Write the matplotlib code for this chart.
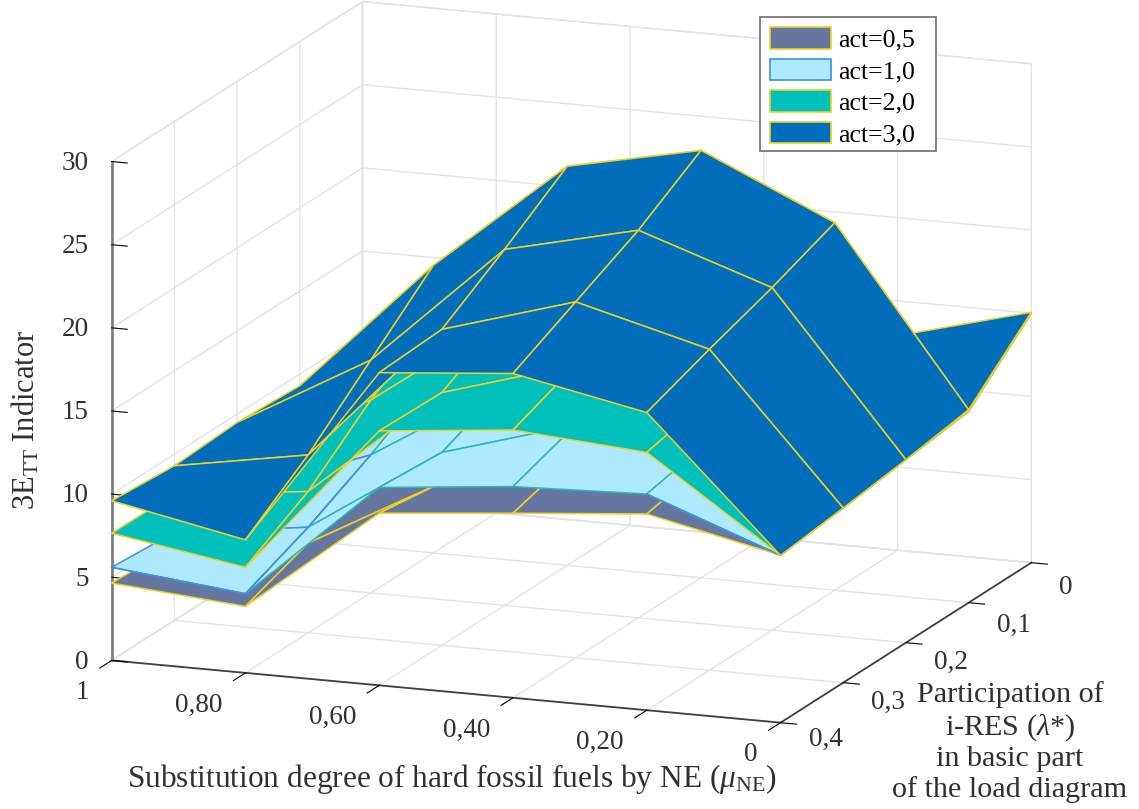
import matplotlib
matplotlib.use("Agg")
import numpy as np
import matplotlib.pyplot as plt
from matplotlib.patches import Patch, Rectangle
from mpl_toolkits.mplot3d import proj3d

plt.rcParams['font.family'] = ['Liberation Serif', 'DejaVu Serif']
plt.rcParams['mathtext.fontset'] = 'custom'
plt.rcParams['mathtext.rm'] = 'Liberation Serif'
plt.rcParams['mathtext.it'] = 'Liberation Serif:italic'

mu_values = [1.0, 0.8, 0.6, 0.4, 0.2, 0.0]
lambda_values = [0.4, 0.3, 0.2, 0.1, 0.0]

act_05 = [[4.65, 4.0, 10.35, 11.1, 11.8, 10.06],
          [4.5, 5.4, 9.8, 12.2, 12.6, 10.5],
          [4.5, 7.0, 12.0, 14.0, 13.0, 11.0],
          [4.5, 9.0, 13.0, 15.0, 14.0, 11.5],
          [4.5, 7.0, 9.0, 9.0, 9.5, 15.0]]
act_10 = [[5.6, 4.76, 11.9, 12.7, 13.0, 10.06],
          [5.3, 6.35, 11.6, 14.0, 13.8, 10.5],
          [5.3, 8.3, 13.2, 15.5, 14.5, 11.0],
          [5.3, 10.5, 15.0, 17.0, 15.5, 11.5],
          [5.3, 8.0, 10.0, 10.0, 10.0, 15.0]]
act_20 = [[7.65, 6.35, 15.3, 16.1, 15.5, 10.06],
          [7.6, 8.5, 15.2, 17.6, 16.4, 10.5],
          [7.6, 11.6, 17.3, 19.5, 18.0, 11.0],
          [7.6, 14.0, 20.0, 21.0, 19.0, 11.5],
          [7.6, 10.0, 12.0, 13.0, 12.0, 15.0]]
act_30 = [[9.6, 8.0, 18.8, 19.5, 17.9, 10.06],
          [9.3, 10.7, 19.0, 21.4, 19.3, 10.5],
          [9.5, 14.0, 21.4, 23.3, 20.6, 11.0],
          [9.3, 17.3, 24.0, 25.7, 22.1, 11.6],
          [9.4, 11.0, 14.0, 15.0, 12.9, 15.06]]

series_labels = ['act=0,5', 'act=1,0', 'act=2,0', 'act=3,0']
face_colors = ['#6577a0', '#aeeaff', '#00c0bc', '#006ebb']
edge_color = '#f0d020'
edge_blue = '#3f8fe0'
edge_teal = '#2fb5b5'
text_color = '#303030'

x_ticks = [1.0, 0.8, 0.6, 0.4, 0.2, 0.0]
x_tick_labels = ['1', '0,80', '0,60', '0,40', '0,20', '0']
y_ticks = [0.0, 0.1, 0.2, 0.3, 0.4]
y_tick_labels = ['0', '0,1', '0,2', '0,3', '0,4']
z_ticks = [0, 5, 10, 15, 20, 25, 30]

W, H = 1139, 809
fig = plt.figure(figsize=(W / 100, H / 100), dpi=100, facecolor='white')
side = 1139
ax = fig.add_axes([-13.4 / W, -138 / H, side / W, side / H], projection='3d',
                  computed_zorder=False, proj_type='ortho')
ax.view_init(elev=14.1, azim=-69.1)
ax.set_box_aspect((714, 701, 513), zoom=0.961)

MU, LAM = np.meshgrid(mu_values, lambda_values)
surfaces = [act_05, act_10, act_20, act_30]
for k, (Z, fc) in enumerate(zip(surfaces, face_colors)):
    surf = ax.plot_surface(MU, LAM, np.array(Z), rstride=1, cstride=1, color=fc,
                           edgecolor=edge_color, linewidth=1.1, shade=False,
                           antialiased=True, zorder=k + 1)
    if k == 1:
        nrow, ncol = len(lambda_values) - 1, len(mu_values) - 1
        surf.set_edgecolor([edge_blue if c == 0 else edge_teal
                            for r in range(nrow) for c in range(ncol)])

# act=1,0 blue edge segments
a10 = np.array(act_10)
ax.plot(MU[:3, 1], LAM[:3, 1], a10[:3, 1], color=edge_blue, lw=1.1, zorder=2.5)
ax.plot(MU[0, :2], LAM[0, :2], a10[0, :2], color=edge_blue, lw=1.1, zorder=2.5)
ax.plot(MU[0, 4:], LAM[0, 4:], a10[0, 4:], color=edge_blue, lw=1.1, zorder=2.5)

ax.set_xlim(1, 0)
ax.set_ylim(0.4, 0)
ax.set_zlim(0, 30)
ax.set_xticks(x_ticks)
ax.set_yticks(y_ticks)
ax.set_zticks(z_ticks)
ax.zaxis.set_ticks_position('upper')

factors = {'x': 0.6, 'y': 0.3, 'z': 0.29}
for name, axis in (('x', ax.xaxis), ('y', ax.yaxis), ('z', ax.zaxis)):
    axis.set_pane_color((1, 1, 1, 1))
    axis.pane.set_edgecolor('#e3e3e3')
    axis._axinfo['grid']['color'] = '#e3e3e3'
    axis._axinfo['grid']['linewidth'] = 1.0
    axis._axinfo['tick']['inward_factor'] = factors[name]
    axis._axinfo['tick']['outward_factor'] = 0.0
    axis._axinfo['tick']['color'] = '#404040'
    axis._axinfo['axisline']['color'] = '#404040'
    axis.line.set_color('#404040')
    axis.line.set_linewidth(1.3)
    for tick in axis.get_major_ticks():
        tick.label1.set_visible(False)
        tick.label2.set_visible(False)
ax.zaxis.line.set_color('#808080')
ax.zaxis.line.set_linewidth(2)

TICK_FS = 19.5
proj = ax.get_proj()


def tick_text(x, y, z, s, ha):
    px, py, _ = proj3d.proj_transform(x, y, z, proj)
    ax.text2D(px, py, s, transform=ax.transData, ha=ha, va='center',
              fontsize=TICK_FS, color=text_color, zorder=10)


y_label_drop = [-1.36, -1.18, -1.0, -1.0, -0.82]
for v, s in zip(x_ticks, x_tick_labels):
    tick_text(v, 0.4368, -1.05, s, 'right')
for v, s, dz in zip(y_ticks, y_tick_labels, y_label_drop):
    tick_text(-0.042, v, dz, s, 'left')
for v in z_ticks:
    tick_text(1.0345, 0.4, v - 0.24, str(v), 'right')

fig.text(452 / W, 1 - 779 / H, r'Substitution degree of hard fossil fuels by NE ($\mu_{\mathrm{NE}}$)',
         ha='center', va='center', fontsize=22.6, color=text_color)
fig.text(1010 / W, 1 - 742 / H, 'Participation of\ni-RES ($\\lambda$*)\nin basic part\nof the load diagram',
         ha='center', va='center', fontsize=21.7, color=text_color, linespacing=1.17)
fig.text(26 / W, 1 - 420 / H, r'3E$_{\mathrm{TT}}$ Indicator', rotation=90,
         ha='center', va='center', fontsize=22, color=text_color)

handles = [Patch(facecolor=fc, edgecolor=(edge_blue if i == 1 else edge_color), linewidth=1.2)
           for i, fc in enumerate(face_colors)]
fig.add_artist(Rectangle((760 / W, 1 - 151 / H), 176 / W, 134 / H, transform=fig.transFigure,
                         facecolor='white', edgecolor='#808080', linewidth=1.4, zorder=4))
leg = fig.legend(handles, series_labels, loc='upper left',
                 bbox_to_anchor=(760 / W, 1 - 17 / H), fontsize=18.5,
                 handlelength=2.35, handleheight=0.9, handletextpad=0.3,
                 labelspacing=0.27, borderpad=0.4, borderaxespad=0,
                 frameon=False)
leg.set_zorder(5)

fig.savefig('out.png', dpi=100)
